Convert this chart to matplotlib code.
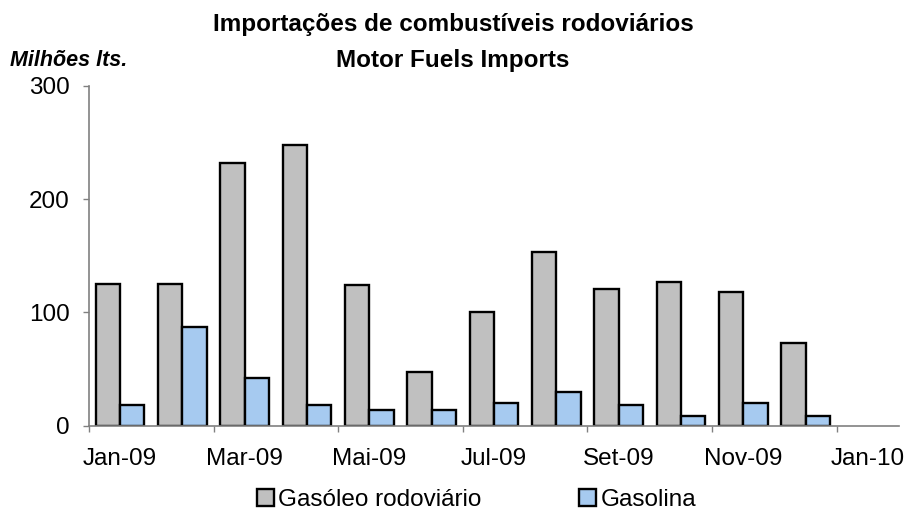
import numpy as np
import matplotlib
matplotlib.use("Agg")
import matplotlib.pyplot as plt
from matplotlib.ticker import FixedLocator

plt.rcParams['font.family'] = ['Liberation Sans', 'DejaVu Sans']

# Dados (milhões de litros)
meses = ['Jan-09', 'Fev-09', 'Mar-09', 'Abr-09', 'Mai-09', 'Jun-09', 'Jul-09',
         'Ago-09', 'Set-09', 'Out-09', 'Nov-09', 'Dez-09', 'Jan-10']
gasoleo = [125, 125, 232, 248, 124, 47, 100, 153, 121, 127, 118, 73]
gasolina = [18, 87, 42, 18, 14, 14, 20, 30, 18, 9, 20, 9]

fig = plt.figure(figsize=(9.06, 5.11), dpi=100)
ax = fig.add_axes([0.0982, 0.1669, 0.8941, 0.6654])

x = np.arange(len(gasoleo))
w = 0.39
ax.bar(x - w / 2, gasoleo, width=w, color='#C0C0C0', edgecolor='black',
       linewidth=1.7, label='Gasóleo rodoviário')
ax.bar(x + w / 2, gasolina, width=w, color='#A6CAF0', edgecolor='black',
       linewidth=1.7, label='Gasolina')

ax.set_xlim(-0.5, len(meses) - 0.5)
ax.set_ylim(0, 300)
ax.set_yticks([0, 100, 200, 300])

pos = np.arange(0, len(meses), 2)
ax.set_xticks(pos)
ax.set_xticklabels([meses[i] for i in pos])
ax.xaxis.set_minor_locator(FixedLocator(np.arange(-0.5, len(meses) - 1, 2)))
ax.tick_params(axis='x', which='major', length=0, pad=16, labelsize=17.5)
ax.tick_params(axis='x', which='minor', length=4, width=1, color='#808080')
ax.tick_params(axis='y', length=4, width=1, color='#808080', pad=10, labelsize=17.5)

for s in ['top', 'right']:
    ax.spines[s].set_visible(False)
for s in ['left', 'bottom']:
    ax.spines[s].set_color('#808080')
    ax.spines[s].set_linewidth(1.2)

fig.text(0.5, 0.953, 'Importações de combustíveis rodoviários', ha='center',
         va='center', fontsize=17.5, fontweight='bold')
fig.text(0.5, 0.882, 'Motor Fuels Imports', ha='center', va='center',
         fontsize=17.5, fontweight='bold')
fig.text(0.011, 0.882, 'Milhões lts.', ha='left', va='center', fontsize=15.5,
         fontweight='bold', style='italic')

fig.legend(loc='center', bbox_to_anchor=(0.526, 0.022), ncol=2, frameon=False,
           fontsize=17.5, handlelength=0.7, handleheight=0.7, handletextpad=0.2,
           columnspacing=4.0, borderpad=0)

plt.savefig('out.png', dpi=100)
